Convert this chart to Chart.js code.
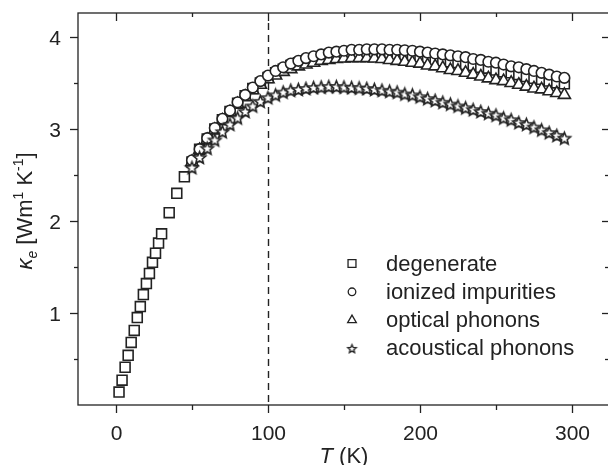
<!DOCTYPE html>
<html>
<head>
<meta charset="utf-8">
<script src="https://cdn.jsdelivr.net/npm/chart.js@4/dist/chart.umd.min.js"></script>
<style>
  html, body { margin: 0; padding: 0; background: #fff; overflow: hidden; }
  canvas { display: block; }
</style>
</head>
<body>
<canvas id="kappa" width="608" height="465"></canvas>
<script>
// temperatures (K)
const tDegenerate = [2, 4, 6, 8, 10, 12, 14, 16, 18, 20, 22, 24, 26, 28, 30, 35, 40, 45, 50,
  55, 60, 65, 70, 75, 80, 85, 90, 95, 100, 105, 110, 115, 120, 125, 130, 135, 140, 145, 150,
  155, 160, 165, 170, 175, 180, 185, 190, 195, 200, 205, 210, 215, 220, 225, 230, 235, 240,
  245, 250, 255, 260, 265, 270, 275, 280, 285, 290, 295];
const tScattering = [50, 55, 60, 65, 70, 75, 80, 85, 90, 95, 100, 105, 110, 115, 120, 125,
  130, 135, 140, 145, 150, 155, 160, 165, 170, 175, 180, 185, 190, 195, 200, 205, 210, 215,
  220, 225, 230, 235, 240, 245, 250, 255, 260, 265, 270, 275, 280, 285, 290, 295];

// kappa_e values
const kDegenerate = [0.14, 0.27, 0.41, 0.54, 0.68, 0.81, 0.95, 1.07, 1.20, 1.32, 1.43, 1.55,
  1.65, 1.76, 1.86, 2.09, 2.30, 2.48, 2.64,
  2.78, 2.89, 3.00, 3.10, 3.19, 3.28, 3.36, 3.44, 3.50, 3.56, 3.61, 3.65, 3.69, 3.72, 3.74,
  3.76, 3.78, 3.80, 3.81, 3.82, 3.82, 3.825, 3.825, 3.82, 3.82, 3.81, 3.80, 3.80, 3.79, 3.78,
  3.77, 3.75, 3.74, 3.73, 3.72, 3.70, 3.69, 3.67, 3.66, 3.64, 3.62, 3.61, 3.59, 3.57, 3.55,
  3.54, 3.52, 3.50, 3.49];
const kIonized = [2.66, 2.78, 2.90, 3.01, 3.11, 3.20, 3.29, 3.37, 3.45, 3.52, 3.58, 3.63,
  3.67, 3.71, 3.74, 3.77, 3.79, 3.81, 3.83, 3.84, 3.85, 3.86, 3.86, 3.865, 3.865, 3.865, 3.86,
  3.86, 3.855, 3.85, 3.84, 3.83, 3.82, 3.81, 3.80, 3.79, 3.78, 3.76, 3.75, 3.73, 3.72, 3.70,
  3.68, 3.67, 3.65, 3.63, 3.61, 3.59, 3.57, 3.555];
const kOptical = [2.64, 2.77, 2.88, 2.99, 3.09, 3.18, 3.27, 3.35, 3.42, 3.48, 3.54, 3.58,
  3.62, 3.65, 3.68, 3.70, 3.72, 3.74, 3.75, 3.76, 3.765, 3.77, 3.77, 3.77, 3.765, 3.76, 3.75,
  3.74, 3.73, 3.72, 3.71, 3.69, 3.68, 3.66, 3.64, 3.63, 3.61, 3.59, 3.57, 3.55, 3.53, 3.52,
  3.50, 3.48, 3.46, 3.44, 3.43, 3.41, 3.39, 3.37];
const kAcoustical = [2.58, 2.69, 2.79, 2.88, 2.97, 3.05, 3.12, 3.19, 3.25, 3.30, 3.34, 3.37,
  3.40, 3.42, 3.43, 3.44, 3.45, 3.455, 3.46, 3.46, 3.455, 3.45, 3.445, 3.44, 3.43, 3.42, 3.41,
  3.40, 3.38, 3.37, 3.35, 3.33, 3.31, 3.29, 3.27, 3.25, 3.23, 3.21, 3.19, 3.17, 3.15, 3.12,
  3.10, 3.07, 3.05, 3.02, 2.99, 2.96, 2.93, 2.90];

const seriesLabels = ['degenerate', 'ionized impurities', 'optical phonons', 'acoustical phonons'];
const xTicks = [0, 100, 200, 300];
const xMinorTicks = [50, 150, 250];
const yTicks = [1, 2, 3, 4];
const yMinorTicks = [0.5, 1.5, 2.5, 3.5];
const dashedAt = 100;
const xFrameEnd = 325; // right frame sits just past the canvas edge

const INK = '#222';
const FONT = "'Liberation Sans', Arial, sans-serif";

// open five-pointed star as a point style
function makeStar(outer, lw) {
  const size = Math.ceil(outer * 2 + 4);
  const c = document.createElement('canvas');
  c.width = size; c.height = size;
  const g = c.getContext('2d');
  const inner = outer * 0.45;
  g.beginPath();
  for (let i = 0; i < 10; i++) {
    const r = i % 2 ? inner : outer;
    const a = -Math.PI / 2 + i * Math.PI / 5;
    const px = size / 2 + r * Math.cos(a), py = size / 2 + 0.6 + r * Math.sin(a);
    if (i === 0) g.moveTo(px, py); else g.lineTo(px, py);
  }
  g.closePath();
  g.fillStyle = '#fff';
  g.fill();
  g.lineWidth = lw;
  g.strokeStyle = INK;
  g.stroke();
  return c;
}
const starBig = makeStar(6.4, 1.6);
const starSmall = makeStar(4.4, 1.3);

const toPoints = (xs, ys) => ys.map((y, i) => ({ x: xs[i], y }));

function ds(label, xs, ys, style, radius, order) {
  return {
    label,
    data: toPoints(xs, ys),
    pointStyle: style,
    pointRadius: radius,
    pointHoverRadius: radius,
    pointBackgroundColor: '#fff',
    pointBorderColor: INK,
    pointBorderWidth: 1.6,
    showLine: false,
    order
  };
}

// frame, ticks, labels, dashed marker line, titles, legend
const decorations = {
  id: 'decorations',
  beforeDatasetsDraw(chart) {
    const { ctx, chartArea: a, scales: { x } } = chart;
    ctx.save();
    ctx.strokeStyle = INK;
    ctx.lineWidth = 1.4;
    ctx.setLineDash([7, 5]);
    const xd = Math.round(x.getPixelForValue(dashedAt)) + 0.5;
    ctx.beginPath();
    ctx.moveTo(xd, a.top + 10);
    ctx.lineTo(xd, a.bottom);
    ctx.stroke();
    ctx.restore();
  },
  afterDraw(chart) {
    const { ctx, chartArea: a, scales: { x, y } } = chart;
    const right = x.getPixelForValue(xFrameEnd);
    ctx.save();
    ctx.strokeStyle = INK;
    ctx.lineWidth = 1.3;
    ctx.strokeRect(a.left, a.top, right - a.left, a.bottom - a.top);

    const tick = (x1, y1, x2, y2) => { ctx.beginPath(); ctx.moveTo(x1, y1); ctx.lineTo(x2, y2); ctx.stroke(); };
    ctx.fillStyle = INK;
    ctx.font = `21px ${FONT}`;
    ctx.textBaseline = 'alphabetic';
    xTicks.forEach(v => {
      const px = Math.round(x.getPixelForValue(v)) + 0.5;
      tick(px, a.bottom, px, a.bottom + 8);
      tick(px, a.top, px, a.top + 8);
      ctx.textAlign = 'center';
      ctx.fillText(String(v), px, 439.5);
    });
    xMinorTicks.forEach(v => {
      const px = Math.round(x.getPixelForValue(v)) + 0.5;
      tick(px, a.bottom, px, a.bottom + 5);
      tick(px, a.top, px, a.top + 4);
    });
    yTicks.forEach(v => {
      const py = Math.round(y.getPixelForValue(v)) + 0.5;
      tick(a.left - 8, py, a.left, py);
      tick(right - 8, py, right, py);
      ctx.textAlign = 'right';
      ctx.fillText(String(v), 61, py + 7.5);
    });
    yMinorTicks.forEach(v => {
      const py = Math.round(y.getPixelForValue(v)) + 0.5;
      tick(a.left - 4, py, a.left, py);
      tick(right - 5, py, right, py);
    });
    ctx.textAlign = 'left';

    // x title: T (K)
    const cx = (a.left + right) / 2;
    ctx.font = `italic 22px ${FONT}`;
    const wT = ctx.measureText('T').width;
    ctx.font = `22px ${FONT}`;
    const wRest = ctx.measureText(' (K)').width;
    const sx = cx - (wT + wRest) / 2;
    ctx.font = `italic 22px ${FONT}`;
    ctx.fillText('T', sx, 463);
    ctx.font = `22px ${FONT}`;
    ctx.fillText(' (K)', sx + wT, 463);

    // y title: kappa_e [Wm^1 K^-1]
    const parts = [
      { t: '\u03BA', f: `italic 22px ${FONT}`, dy: 0 },
      { t: 'e', f: `italic 14px ${FONT}`, dy: 5 },
      { t: ' [Wm', f: `22px ${FONT}`, dy: 0 },
      { t: '1', f: `14px ${FONT}`, dy: -9 },
      { t: ' K', f: `22px ${FONT}`, dy: 0 },
      { t: '-1', f: `14px ${FONT}`, dy: -9 },
      { t: ']', f: `22px ${FONT}`, dy: 0 }
    ];
    let total = 0;
    parts.forEach(p => { ctx.font = p.f; p.w = ctx.measureText(p.t).width; total += p.w; });
    ctx.translate(32, (a.top + a.bottom) / 2 + 2);
    ctx.rotate(-Math.PI / 2);
    let px = -total / 2;
    parts.forEach(p => { ctx.font = p.f; ctx.fillText(p.t, px, p.dy); px += p.w; });
    ctx.setTransform(1, 0, 0, 1, 0, 0);

    // legend
    const legendStyles = ['rect', 'circle', 'triangle', starSmall];
    const legendRadius = [5.6, 3.8, 5, 4];
    ctx.font = `22px ${FONT}`;
    ctx.textBaseline = 'middle';
    seriesLabels.forEach((lbl, i) => {
      const ly = 263.5 + i * 28.3;
      ctx.fillStyle = '#fff';
      ctx.strokeStyle = INK;
      ctx.lineWidth = 1.3;
      ctx.setLineDash([]);
      Chart.helpers.drawPoint(ctx, { pointStyle: legendStyles[i], radius: legendRadius[i], rotation: 0, borderWidth: 1.3 }, 352, ly);
      ctx.fillStyle = INK;
      ctx.fillText(lbl, 386, ly + 1);
    });
    ctx.restore();
  }
};

new Chart(document.getElementById('kappa'), {
  type: 'scatter',
  data: {
    datasets: [
      ds(seriesLabels[0], tDegenerate, kDegenerate, 'rect', 7, 3),
      ds(seriesLabels[1], tScattering, kIonized, 'circle', 5.3, 1),
      ds(seriesLabels[2], tScattering, kOptical, 'triangle', 7, 2),
      ds(seriesLabels[3], tScattering, kAcoustical, starBig, 6, 0)
    ]
  },
  options: {
    responsive: false,
    animation: false,
    events: [],
    layout: { autoPadding: false, padding: { top: 13, right: 0, left: 0, bottom: 0 } },
    plugins: { legend: { display: false }, tooltip: { enabled: false } },
    scales: {
      x: {
        type: 'linear',
        min: -25,
        max: 323.7,
        afterFit: s => { s.height = 60; },
        grid: { display: false, drawTicks: false },
        border: { display: false },
        ticks: { display: false }
      },
      y: {
        type: 'linear',
        min: 0,
        max: 4.26,
        afterFit: s => { s.width = 78; },
        grid: { display: false, drawTicks: false },
        border: { display: false },
        ticks: { display: false }
      }
    }
  },
  plugins: [decorations]
});
</script>
</body>
</html>
